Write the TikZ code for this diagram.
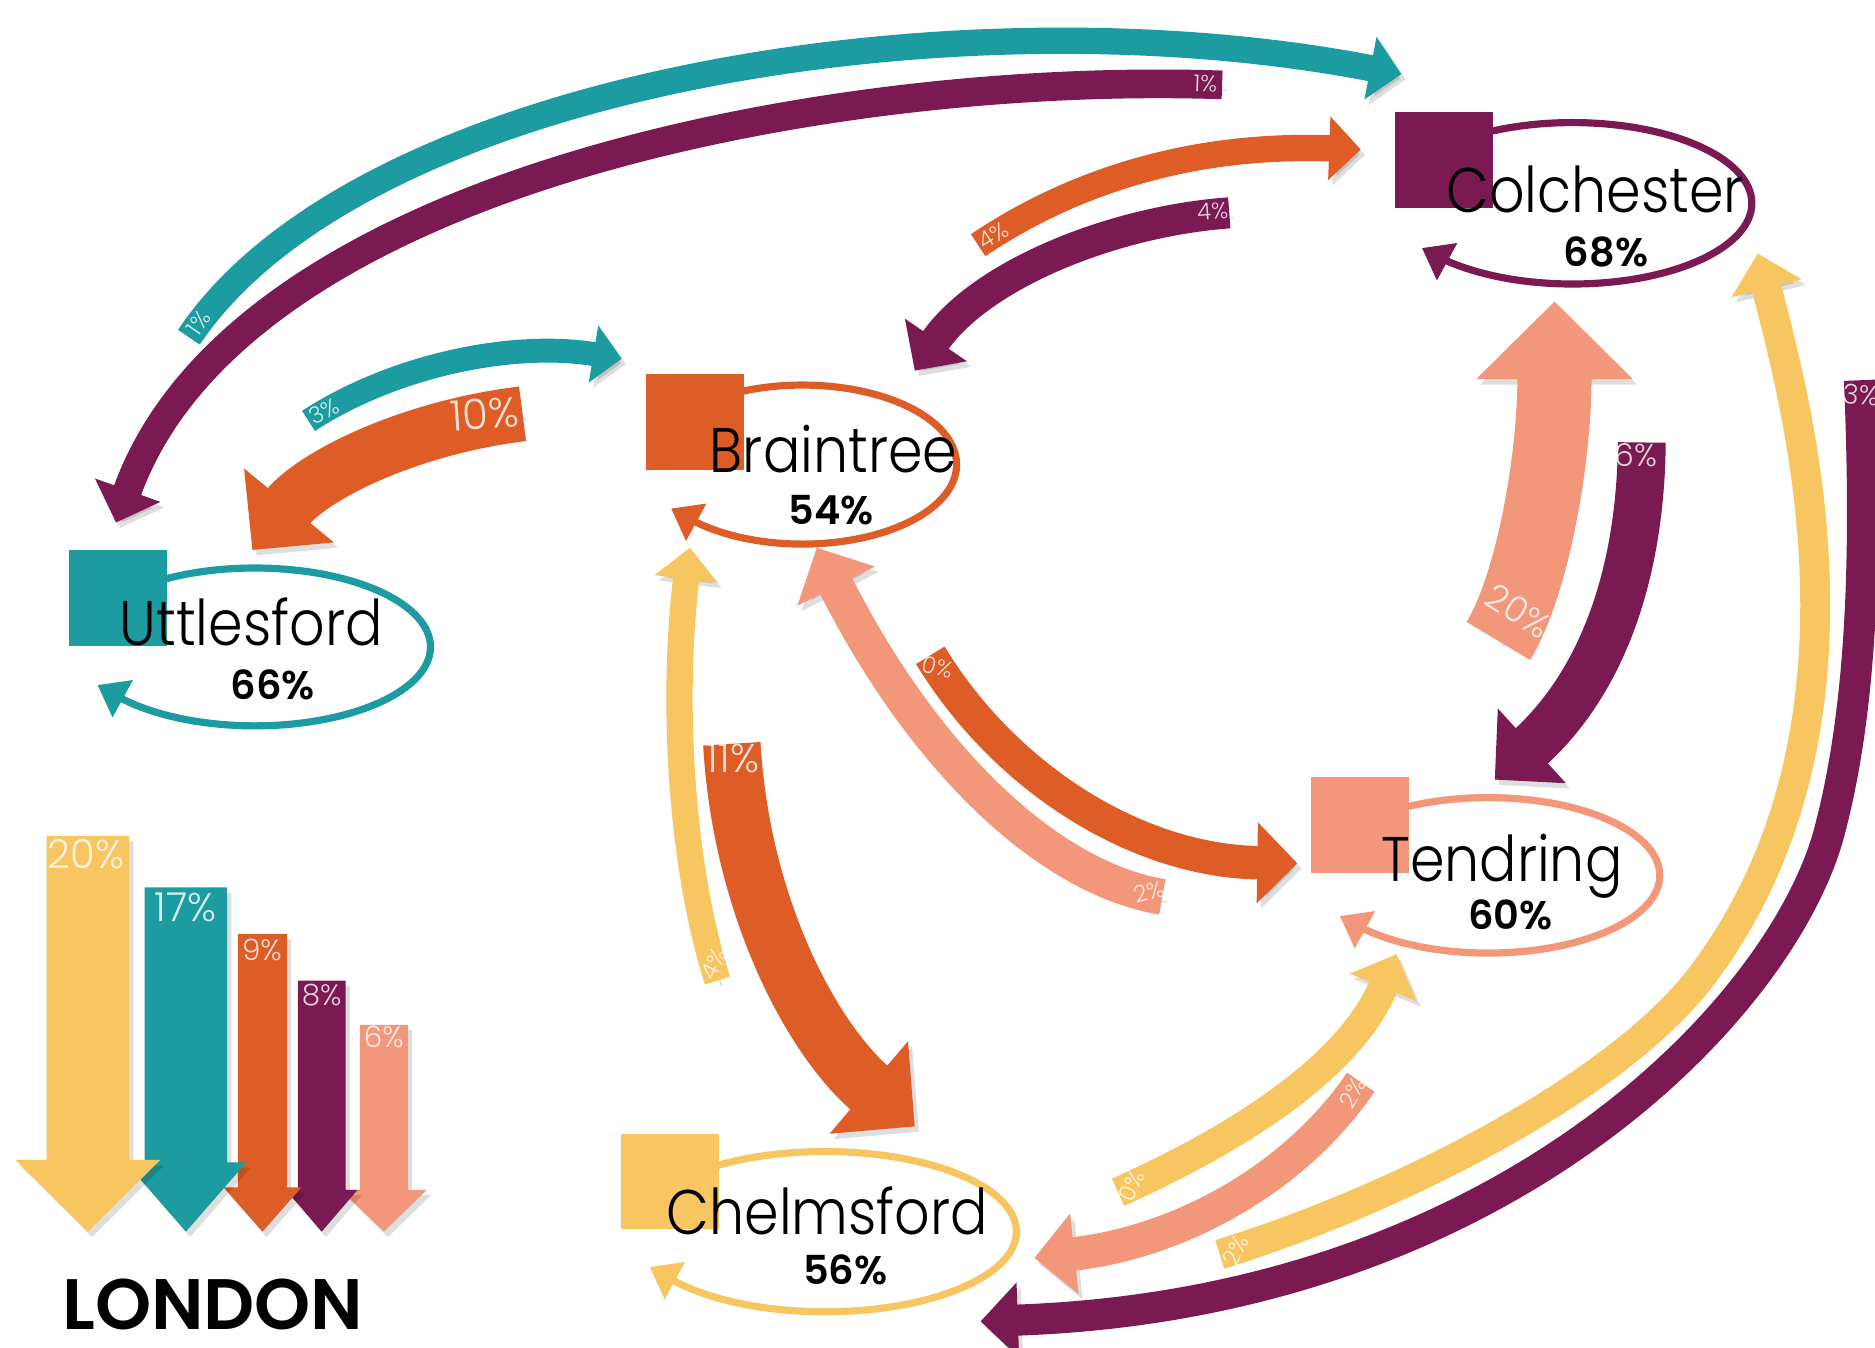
\documentclass[tikz,border=0pt]{standalone}
\usepackage{fontspec}
\setmainfont{Poppins}
\newfontfamily\placefont{Poppins}[UprightFont=* Light, FakeStretch=0.88]
\newfontfamily\tagfont{Poppins}[UprightFont=* Light]
\newfontfamily\sharefont{Poppins}[UprightFont=* SemiBold]
\usetikzlibrary{arrows.meta}
\definecolor{cteal}{HTML}{1C9BA1}
\definecolor{cplum}{HTML}{7A1952}
\definecolor{corange}{HTML}{DE5C25}
\definecolor{cgold}{HTML}{F8C660}
\definecolor{csalmon}{HTML}{F3977A}
% self-flow ring round a district: #1 centre, #2/#3 radii, #4 end angle, #5 colour
\newcommand\loopring[5]{%
  \draw[ring,#5] ([shift={(225:#2 and #3)}]#1)
    arc[start angle=225, end angle=#4, x radius=#2, y radius=#3]
    -- ++(-11,-6);}
\begin{document}
\begin{tikzpicture}[x=0.1mm, y=-0.1mm,
  flowbase/.style={line width=#1,
    preaction={draw=black, opacity=0.13,
      transform canvas={shift={(0.35mm,-0.45mm)}}}},
  flow/.style={flowbase=#1, -{Triangle[width=0pt 2.35, length=0pt 1.2]}},
  bigflow/.style={flowbase=#1, -{Triangle[width=0pt 2.05, length=0pt 1.05]}},
  ring/.style={line width=0.6mm, -{Triangle[width=3.4mm, length=2.4mm]}},
  box/.style={minimum width=8.2mm, minimum height=8.0mm, inner sep=0pt, outer sep=0pt},
  place/.style={font=\placefont\fontsize{15}{17}\selectfont, anchor=base, inner sep=0pt},
  share/.style={font=\sharefont\fontsize{9.5}{11}\selectfont, anchor=base, inner sep=0pt},
  tag/.style={text=white, text opacity=0.8, inner sep=0pt, font=\tagfont\fontsize{5.5}{6}\selectfont},
  bar/.style={preaction={fill=black, opacity=0.13,
      transform canvas={shift={(0.35mm,-0.45mm)}}}},
]
\useasboundingbox (0,0) rectangle (1568,1127);
\fill[white] (0,0) rectangle (1568,1127);

% district centres
\coordinate (col) at (1315,170);
\coordinate (bra) at (671,388.5);
\coordinate (utt) at (213,541);
\coordinate (ten) at (1244.5,732);
\coordinate (che) at (690,1030);

% flow end points
\coordinate (uc-s) at (158,282);   \coordinate (uc-e) at (1172,62);
\coordinate (cu-s) at (1022,71);   \coordinate (cu-e) at (97,437);
\coordinate (ub-s) at (258,352);   \coordinate (ub-e) at (520,300);
\coordinate (bu-s) at (437,346);   \coordinate (bu-e) at (211,460);
\coordinate (bc-s) at (818,205);   \coordinate (bc-e) at (1138,125);
\coordinate (cb-s) at (1028,178);  \coordinate (cb-e) at (765,310);
\coordinate (tc-s) at (1253,536);  \coordinate (tc-e) at (1300,252);
\coordinate (ct-s) at (1373,370);  \coordinate (ct-e) at (1250,652);
\coordinate (hc-s) at (1020,1049); \coordinate (hc-m) at (1424,815); \coordinate (hc-e) at (1470,212);
\coordinate (ch-s) at (1555,318);  \coordinate (ch-m) at (1530,695); \coordinate (ch-e) at (820,1105);
\coordinate (bt-s) at (778,548);   \coordinate (bt-e) at (1085,722);
\coordinate (tb-s) at (972,750);   \coordinate (tb-e) at (683,458);
\coordinate (hb-s) at (600,820);   \coordinate (hb-e) at (577,458);
\coordinate (bh-s) at (612,622);   \coordinate (bh-e) at (765,942);
\coordinate (ht-s) at (935,997);   \coordinate (ht-e) at (1168,798);
\coordinate (th-s) at (1138,905);  \coordinate (th-e) at (865,1052);

\begin{scope}
\clip (0,0) rectangle (1568,1127);
% flows between districts
\draw[flow=2.2mm, cteal]      (uc-s) .. controls (300,70) and (800,-10) .. (uc-e);
\draw[flow=2.4mm, cplum]      (cu-s) .. controls (700,60) and (200,150) .. (cu-e);
\draw[flow=2.0mm, cteal]      (ub-s) .. controls (330,305) and (430,285) .. (ub-e);
\draw[bigflow=4.6mm, corange] (bu-s) .. controls (340,358) and (262,398) .. (bu-e);
\draw[flow=2.2mm, corange]    (bc-s) .. controls (900,150) and (1000,120) .. (bc-e);
\draw[flow=2.6mm, cplum]      (cb-s) .. controls (930,185) and (820,230) .. (cb-e);
\draw[bigflow=6.2mm, csalmon] (tc-s) .. controls (1280,492) and (1300,390) .. (tc-e);
\draw[bigflow=4.0mm, cplum]   (ct-s) .. controls (1372,480) and (1340,570) .. (ct-e);
\draw[flow=2.5mm, cgold]      (hc-s) .. controls (1163,1005) and (1352,911) .. (hc-m)
                                     .. controls (1580,607) and (1500,330) .. (hc-e);
\draw[flow=2.6mm, cplum]      (ch-s) .. controls (1562,480) and (1555,600) .. (ch-m)
                                     .. controls (1492,840) and (1260,1090) .. (ch-e);
\draw[flow=2.8mm, corange]    (bt-s) .. controls (840,650) and (950,720) .. (bt-e);
\draw[flow=3.0mm, csalmon]    (tb-s) .. controls (880,735) and (775,640) .. (tb-e);
\draw[flow=2.2mm, cgold]      (hb-s) .. controls (568,720) and (562,580) .. (hb-e);
\draw[bigflow=4.8mm, corange] (bh-s) .. controls (620,760) and (680,870) .. (bh-e);
\draw[flow=2.5mm, cgold]      (ht-s) .. controls (1040,950) and (1130,890) .. (ht-e);
\draw[flow=2.8mm, csalmon]    (th-s) .. controls (1080,990) and (980,1040) .. (th-e);
\node[tag, font=\tagfont\fontsize{6.5}{7}\selectfont, rotate=-4] (t16) at (1556,330) {3\%};
\end{scope}

% flow shares
\node[tag, rotate=55]  (t1)  at (166,270)  {1\%};
\node[tag, rotate=-2]  (t2)  at (1008,70)  {1\%};
\node[tag, rotate=28]  (t3)  at (271,344)  {3\%};
\node[tag, font=\tagfont\fontsize{10}{12}\selectfont, rotate=4] (t4) at (405,346) {10\%};
\node[tag, rotate=32]  (t5)  at (831,197)  {4\%};
\node[tag, rotate=4]   (t6)  at (1014,177) {4\%};
\node[tag, font=\tagfont\fontsize{8.5}{10}\selectfont, rotate=-32] (t7) at (1270,511) {20\%};
\node[tag, font=\tagfont\fontsize{7.5}{8}\selectfont] (t8) at (1368,381) {6\%};
\node[tag, rotate=-15] (t9)  at (784,558)  {0\%};
\node[tag, rotate=15]  (t10) at (961,746)  {2\%};
\node[tag, font=\tagfont\fontsize{9.5}{10}\selectfont] (t11) at (613,634) {11\%};
\node[tag, rotate=65]  (t12) at (597,806)  {4\%};
\node[tag, rotate=65]  (t13) at (946,992)  {0\%};
\node[tag, rotate=60]  (t14) at (1131,914) {2\%};
\node[tag, rotate=65]  (t15) at (1033,1046) {2\%};

% self-flow rings
\loopring{col}{150}{67.5}{500}{cplum}
\loopring{bra}{129}{66.5}{500}{corange}
\loopring{utt}{147}{66}{505}{cteal}
\loopring{ten}{143.5}{65}{502}{csalmon}
\loopring{che}{160}{67}{508}{cgold}

% district markers
\node[box, fill=cplum]   (colsq) at (1207.5,134) {};
\node[box, fill=corange] (brasq) at (581,353) {};
\node[box, fill=cteal]   (uttsq) at (99,500) {};
\node[box, fill=csalmon] (tensq) at (1137.5,690) {};
\node[box, fill=cgold]   (chesq) at (560,988) {};

% district names and retained shares
\node[place] (coln) at (1334,178)  {Colchester};
\node[share] (colp) at (1343,223)  {68\%};
\node[place] (bran) at (697,395)   {Braintree};
\node[share] (brap) at (695,439)   {54\%};
\node[place] (uttn) at (210,540)   {Uttlesford};
\node[share] (uttp) at (228,585)   {66\%};
\node[place] (tenn) at (1256,737)  {Tendring};
\node[share] (tenp) at (1263,777)  {60\%};
\node[place] (chen) at (692,1032)  {Chelmsford};
\node[share] (chep) at (707,1074)  {56\%};

% commuting to London
\fill[bar, csalmon] (301,857) -- (341,857) -- (341,995) -- (357,995) -- (321,1030) -- (285,995) -- (301,995) -- cycle;
\fill[bar, cplum]   (249,820) -- (289,820) -- (289,995) -- (299,995) -- (269,1030) -- (239,995) -- (249,995) -- cycle;
\fill[bar, corange] (199,781) -- (240,781) -- (240,993) -- (252,993) -- (219.5,1030) -- (187,993) -- (199,993) -- cycle;
\fill[bar, cteal]   (121,742) -- (190,742) -- (190,972) -- (206,972) -- (155.5,1030) -- (105,972) -- (121,972) -- cycle;
\fill[bar, cgold]   (39,699) -- (108,699) -- (108,970) -- (134,970) -- (73.5,1030) -- (13,970) -- (39,970) -- cycle;
\node[tag, font=\tagfont\fontsize{9.5}{10}\selectfont, anchor=base] (b1) at (72,726)  {20\%};
\node[tag, font=\tagfont\fontsize{9.5}{10}\selectfont, anchor=base] (b2) at (155,771) {17\%};
\node[tag, font=\tagfont\fontsize{7}{8}\selectfont, anchor=base]   (b3) at (219,803) {9\%};
\node[tag, font=\tagfont\fontsize{7}{8}\selectfont, anchor=base]   (b4) at (269,841) {8\%};
\node[tag, font=\tagfont\fontsize{7}{8}\selectfont, anchor=base]   (b5) at (321,876) {6\%};
\node[font=\sharefont\fontsize{17}{19}\selectfont, anchor=base, inner sep=0pt] (london) at (178,1112) {LONDON};
\end{tikzpicture}
\end{document}
